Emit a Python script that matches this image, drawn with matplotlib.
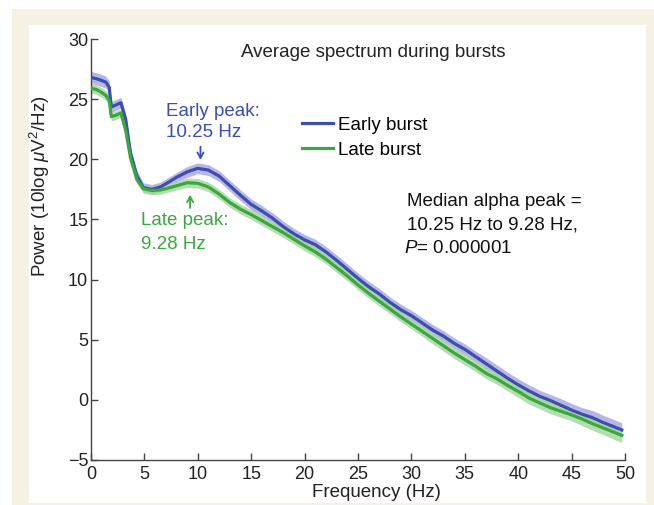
import matplotlib.pyplot as plt
import numpy as np

plt.rcParams['font.family'] = ['Liberation Sans', 'DejaVu Sans']
plt.rcParams['mathtext.fontset'] = 'custom'
plt.rcParams['mathtext.rm'] = 'Liberation Sans'
plt.rcParams['mathtext.it'] = 'Liberation Sans:italic'

# Fréquences (Hz) et puissance moyenne (10log uV2/Hz)
freq = [0, 0.5, 1, 1.4, 1.7, 1.9, 2.3, 2.8, 3.25, 3.7, 4.3, 4.9, 5.7, 6.5,
        7, 8, 9, 10, 11, 12, 13, 14, 15, 16, 17, 18, 19, 20, 21, 22, 23, 24,
        25, 26, 27, 28, 29, 30, 31, 32, 33, 34, 35, 36, 37, 38, 39, 40, 41,
        42, 43, 44, 45, 46, 47, 48, 49, 49.7]

early = [26.8, 26.7, 26.55, 26.4, 26.0, 24.35, 24.5, 24.7, 23.3, 20.5, 18.6, 17.65, 17.5, 17.7,
         17.95, 18.5, 18.95, 19.25, 19.1, 18.6, 17.8, 17.0, 16.25, 15.7, 15.1, 14.4, 13.8, 13.3,
         12.9, 12.3, 11.6, 10.85, 10.1, 9.4, 8.8, 8.1, 7.5, 7.0, 6.4, 5.8, 5.3, 4.7, 4.2, 3.6,
         3.0, 2.4, 1.8, 1.25, 0.75, 0.3, -0.05, -0.45, -0.85, -1.2, -1.5, -1.9, -2.25, -2.5]

late = [25.9, 25.8, 25.55, 25.3, 24.9, 23.55, 23.65, 23.85, 22.4, 20.1, 18.3, 17.55, 17.4, 17.45,
        17.55, 17.8, 18.05, 18.0, 17.7, 17.1, 16.4, 15.85, 15.4, 14.9, 14.4, 13.9, 13.35, 12.8,
        12.3, 11.7, 11.0, 10.3, 9.55, 8.85, 8.2, 7.55, 6.9, 6.3, 5.7, 5.1, 4.5, 3.9, 3.35, 2.8,
        2.2, 1.75, 1.2, 0.7, 0.15, -0.25, -0.65, -0.95, -1.25, -1.6, -2.0, -2.35, -2.7, -2.95]

# demi-largeur des bandes d'erreur
early_err = [0.5, 0.5, 0.5, 0.5, 0.5, 0.45, 0.45, 0.45, 0.45, 0.45, 0.45, 0.4, 0.4, 0.4,
             0.4, 0.4, 0.45, 0.45, 0.45, 0.45, 0.45, 0.45, 0.45, 0.45, 0.45, 0.45, 0.45, 0.45,
             0.45, 0.45, 0.45, 0.45, 0.45, 0.45, 0.45, 0.45, 0.45, 0.45, 0.45, 0.45, 0.45, 0.45,
             0.45, 0.45, 0.5, 0.5, 0.5, 0.5, 0.5, 0.5, 0.5, 0.55, 0.55, 0.55, 0.6, 0.6, 0.6, 0.6]
late_err = [0.4, 0.4, 0.4, 0.4, 0.4, 0.35, 0.35, 0.35, 0.35, 0.35, 0.35, 0.35, 0.35, 0.35,
            0.35, 0.35, 0.4, 0.4, 0.4, 0.4, 0.4, 0.4, 0.4, 0.4, 0.4, 0.4, 0.4, 0.4,
            0.4, 0.4, 0.4, 0.4, 0.4, 0.4, 0.4, 0.4, 0.4, 0.4, 0.4, 0.45, 0.45, 0.45,
            0.45, 0.45, 0.45, 0.45, 0.45, 0.5, 0.5, 0.5, 0.5, 0.5, 0.5, 0.55, 0.55, 0.55, 0.6, 0.6]

xticks = [0, 5, 10, 15, 20, 25, 30, 35, 40, 45, 50]
yticks = [-5, 0, 5, 10, 15, 20, 25, 30]

blue = '#3d4db3'
blue_band = '#a9abdd'
green = '#3aa83f'
green_band = '#a8d9a2'
FS = 13.5

fig = plt.figure(figsize=(6.54, 5.05), dpi=100)
fig.patch.set_facecolor('white')
# cadre beige autour du panneau blanc
fig.patches.append(plt.Rectangle((12 / 654, 0), 1, 1 - 9 / 505, transform=fig.transFigure,
                                 facecolor='#f5f1e3', edgecolor='none', zorder=-2))
fig.patches.append(plt.Rectangle((29 / 654, 2 / 505), (646 - 29) / 654, (503 - 25) / 505,
                                 transform=fig.transFigure, facecolor='white',
                                 edgecolor='none', zorder=-1))

ax = fig.add_axes([91 / 654, 45 / 505, (625 - 91) / 654, (460 - 39) / 505])
ax.set_facecolor('none')

f = np.array(freq)
e = np.array(early)
l = np.array(late)
ax.fill_between(f, e - np.array(early_err), e + np.array(early_err), color=blue_band,
                alpha=0.85, lw=0, zorder=1)
ax.fill_between(f, l - np.array(late_err), l + np.array(late_err), color=green_band,
                alpha=0.85, lw=0, zorder=2)
ax.plot(f, e, color=blue, lw=2.3, zorder=3, label='Early burst')
ax.plot(f, l, color=green, lw=2.3, zorder=4, label='Late burst')

ax.set_xlim(0, 50)
ax.set_ylim(-5, 30)
ax.set_xticks(xticks)
ax.set_yticks(yticks)
ax.set_yticklabels(['\u22125' if t < 0 else str(t) for t in yticks])
for s in ['top', 'right']:
    ax.spines[s].set_visible(False)
for s in ['left', 'bottom']:
    ax.spines[s].set_color('#444444')
    ax.spines[s].set_linewidth(1.0)
ax.tick_params(direction='in', length=5, width=1, colors='#444444', labelcolor='#222222',
               labelsize=13)
ax.tick_params(axis='x', pad=4)
ax.tick_params(axis='y', pad=2)

ax.set_xlabel('Frequency (Hz)', fontsize=FS, color='#222222')
ax.xaxis.set_label_coords(0.535, -0.056)
ax.set_ylabel('Power (10log $\\mathit{\\mu}$V$^2$/Hz)', fontsize=FS, color='#222222')
ax.yaxis.set_label_coords(-0.073, 0.65)

ax.text(26.4, 28.85, 'Average spectrum during bursts', fontsize=FS, ha='center',
        va='center', color='#222222')

ax.legend(loc='upper left', bbox_to_anchor=(0.395, 0.815), frameon=False, fontsize=FS,
          handlelength=1.65, handletextpad=0.3, labelspacing=0.4, borderpad=0,
          borderaxespad=0)

# annotations des pics
arrow_kw = dict(arrowstyle='->,head_length=0.4,head_width=0.22', lw=1.3,
                shrinkA=0, shrinkB=0)
ax.text(7.0, 24.0, 'Early peak:', fontsize=FS, color=blue, va='center')
ax.text(7.0, 22.2, '10.25 Hz', fontsize=FS, color=blue, va='center')
ax.annotate('', xy=(10.25, 19.95), xytext=(10.25, 21.05),
            arrowprops=dict(color=blue, **arrow_kw))
ax.text(4.7, 14.9, 'Late peak:', fontsize=FS, color=green, va='center')
ax.text(4.7, 12.95, '9.28 Hz', fontsize=FS, color=green, va='center')
ax.annotate('', xy=(9.28, 17.05), xytext=(9.28, 15.95),
            arrowprops=dict(color=green, **arrow_kw))

ax.text(29.6, 16.45, 'Median alpha peak =', fontsize=FS, color='#111111', va='center')
ax.text(29.6, 14.55, '10.25 Hz to 9.28 Hz,', fontsize=FS, color='#111111', va='center')
ax.text(29.3, 12.55, '$P$= 0.000001', fontsize=FS, color='#111111', va='center')

fig.savefig('out.png', dpi=100)
